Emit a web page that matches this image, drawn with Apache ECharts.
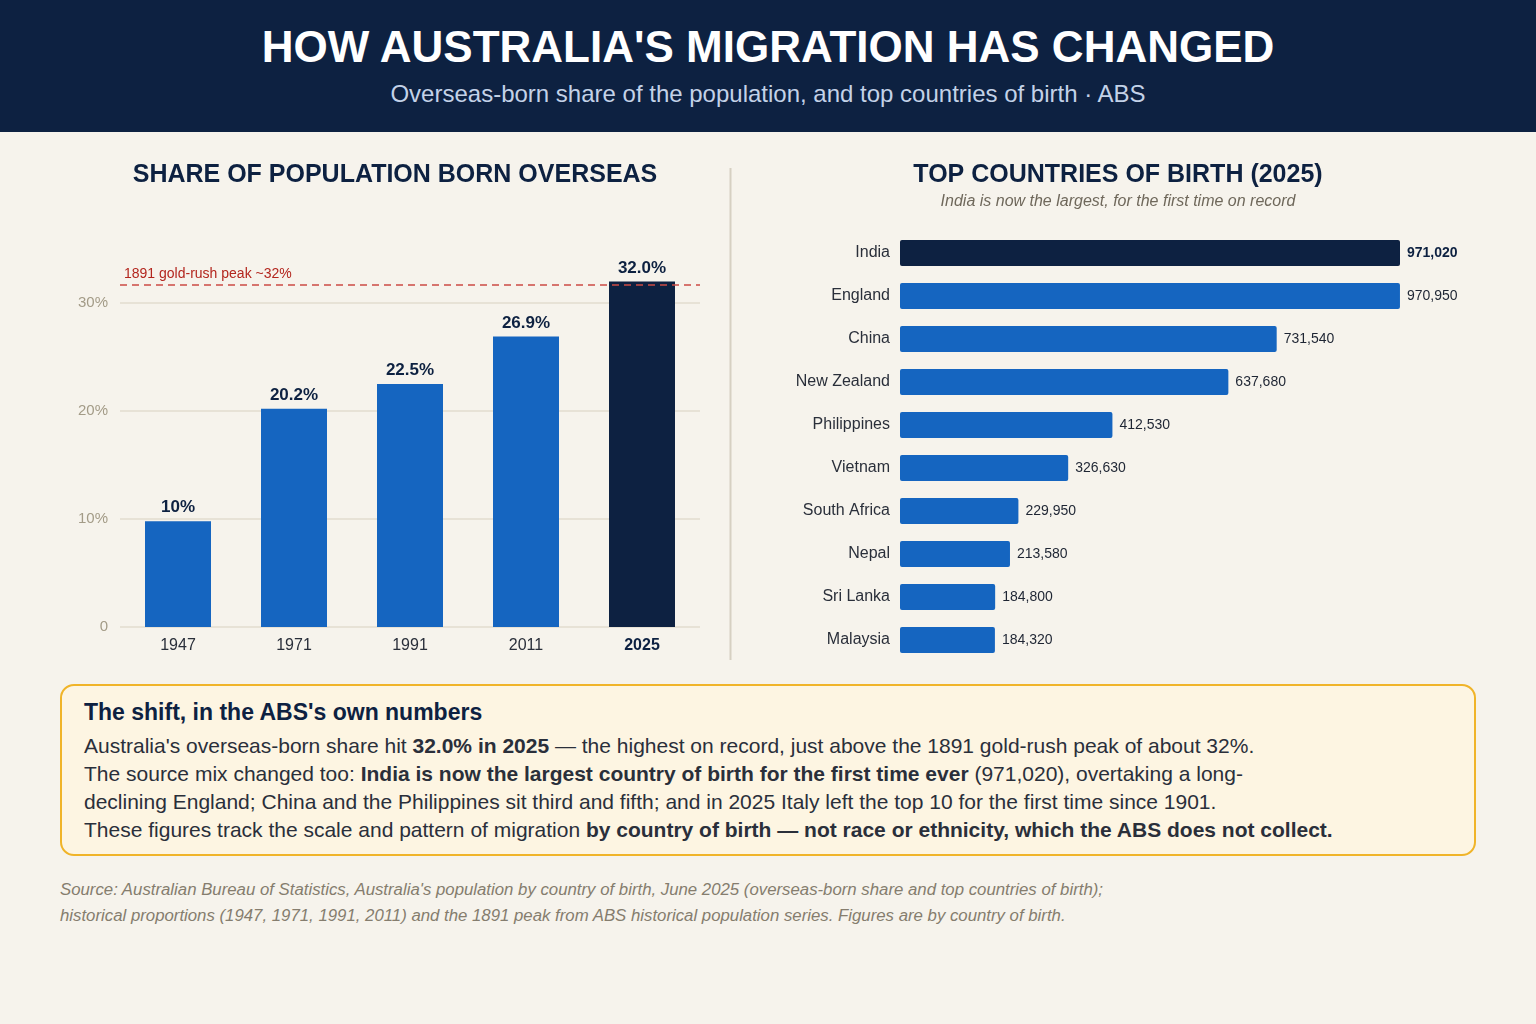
<!DOCTYPE html>
<html>
<head>
<meta charset="utf-8">
<title>How Australia's migration has changed</title>
<script src="https://cdn.jsdelivr.net/npm/echarts@6/dist/echarts.min.js"></script>
<style>
  html, body { margin: 0; padding: 0; }
  body {
    width: 1536px; height: 1024px; position: relative; overflow: hidden;
    background: #f6f3ec;
    font-family: "Liberation Sans", Arial, Helvetica, sans-serif;
  }
  #header {
    position: absolute; left: 0; top: 0; width: 1536px; height: 132px;
    background: #0d2141; text-align: center;
  }
  #header h1 {
    margin: 0; position: absolute; left: 0; right: 0; top: 22px;
    font-size: 44px; line-height: 50px; color: #fff; font-weight: bold;
  }
  #header p {
    margin: 0; position: absolute; left: 0; right: 0; top: 80px;
    font-size: 24px; line-height: 28px; color: #c3d2e8;
  }
  #chart { position: absolute; left: 0; top: 132px; width: 1536px; height: 548px; }
  #note {
    position: absolute; left: 60px; top: 684px; width: 1416px; height: 172px;
    box-sizing: border-box; border: 2px solid #f0b429; border-radius: 14px;
    background: #fdf5e2; padding: 13px 22px 0 22px; color: #2a2f3a;
  }
  #note h3 { margin: 0 0 7px 0; font-size: 23px; line-height: 26px; color: #0d2141; }
  #note p { margin: 0; font-size: 21px; line-height: 28px; }
  #source {
    position: absolute; left: 60px; top: 877px; width: 1440px;
    font-size: 16.8px; line-height: 26px; font-style: italic; color: #857d6e;
  }
</style>
</head>
<body>
<div id="header">
  <h1>HOW AUSTRALIA'S MIGRATION HAS CHANGED</h1>
  <p>Overseas-born share of the population, and top countries of birth · ABS</p>
</div>
<div id="chart"></div>
<div id="note">
  <h3>The shift, in the ABS's own numbers</h3>
  <p>Australia's overseas-born share hit <b>32.0% in 2025</b> — the highest on record, just above the 1891 gold-rush peak of about 32%.<br>
  The source mix changed too: <b>India is now the largest country of birth for the first time ever</b> (971,020), overtaking a long-<br>declining England; China and the Philippines sit third and fifth; and in 2025 Italy left the top 10 for the first time since 1901.<br>
  These figures track the scale and pattern of migration <b>by country of birth — not race or ethnicity, which the ABS does not collect.</b></p>
</div>
<div id="source">
  Source: Australian Bureau of Statistics, Australia's population by country of birth, June 2025 (overseas-born share and top countries of birth);<br>
  historical proportions (1947, 1971, 1991, 2011) and the 1891 peak from ABS historical population series. Figures are by country of birth.
</div>

<script>
// 海外出生人口占比（%）
var years = ['1947', '1971', '1991', '2011', '2025'];
var shareValues = [9.8, 20.2, 22.5, 26.9, 32.0];
var shareLabels = ['10%', '20.2%', '22.5%', '26.9%', '32.0%'];
var peak1891 = 31.7;
var shareTicks = [0, 10, 20, 30];

// 2025 出生国前十
var countries = ['India', 'England', 'China', 'New Zealand', 'Philippines',
                 'Vietnam', 'South Africa', 'Nepal', 'Sri Lanka', 'Malaysia'];
var countryValues = [971020, 970950, 731540, 637680, 412530,
                     326630, 229950, 213580, 184800, 184320];

var NAVY = '#0d2141';
var BLUE = '#1565c0';
var FONT = '"Liberation Sans", Arial, Helvetica, sans-serif';

var dom = document.getElementById('chart');
var myChart = echarts.init(dom);

var shareData = shareValues.map(function (v, i) {
    var last = i === shareValues.length - 1;
    return { value: v, itemStyle: { color: last ? NAVY : BLUE } };
});

var countryData = countryValues.map(function (v, i) {
    return {
        value: v,
        itemStyle: { color: i === 0 ? NAVY : BLUE },
        label: i === 0 ? { fontWeight: 'bold', color: NAVY } : {}
    };
});

var option = {
    textStyle: { fontFamily: FONT },
    animation: false,
    title: [
        {
            text: 'SHARE OF POPULATION BORN OVERSEAS',
            left: 395, top: 31, textAlign: 'center', padding: 0,
            textStyle: { fontSize: 25, fontWeight: 'bold', color: NAVY, fontFamily: FONT }
        },
        {
            text: 'TOP COUNTRIES OF BIRTH (2025)',
            left: 1118, top: 31, textAlign: 'center', padding: 0,
            textStyle: { fontSize: 25, fontWeight: 'bold', color: NAVY, fontFamily: FONT }
        },
        {
            text: 'India is now the largest, for the first time on record',
            left: 1118, top: 62, textAlign: 'center', padding: 0,
            textStyle: { fontSize: 16, fontStyle: 'italic', fontWeight: 'normal', color: '#6f685b', fontFamily: FONT }
        }
    ],
    graphic: [
        {
            type: 'line',
            shape: { x1: 730.5, y1: 36, x2: 730.5, y2: 528 },
            style: { stroke: '#d6d0c2', lineWidth: 2 }
        }
    ],
    grid: [
        { left: 120, right: 836, top: 117, bottom: 53 },
        { left: 900, right: 136, top: 99.5, bottom: 18.5 }
    ],
    xAxis: [
        {
            gridIndex: 0, type: 'category', data: years,
            axisLine: { show: false }, axisTick: { show: false },
            axisLabel: {
                margin: 11, fontSize: 16, color: '#2a2f3a', fontFamily: FONT,
                formatter: function (v, i) {
                    return i === years.length - 1 ? '{b|' + v + '}' : v;
                },
                rich: { b: { fontSize: 16, fontWeight: 'bold', color: NAVY, fontFamily: FONT } }
            }
        },
        {
            gridIndex: 1, type: 'value', min: 0,
            max: function (v) { return v.max; },
            show: false
        }
    ],
    yAxis: [
        {
            gridIndex: 0, type: 'value', min: shareTicks[0], max: 35, interval: 10,
            axisLine: { show: false }, axisTick: { show: false },
            axisLabel: {
                margin: 12, fontSize: 15, color: '#a39b87', fontFamily: FONT,
                showMaxLabel: false,
                formatter: function (v) { return v === 0 ? '0' : v + '%'; }
            },
            splitLine: { showMaxLine: false, lineStyle: { color: '#e7e2d6', width: 2 } }
        },
        {
            gridIndex: 1, type: 'category', data: countries, inverse: true,
            axisLine: { show: false }, axisTick: { show: false },
            axisLabel: { margin: 10, fontSize: 16, color: '#2a2f3a', fontFamily: FONT, padding: [3, 0, 0, 0] }
        }
    ],
    series: [
        {
            type: 'bar', xAxisIndex: 0, yAxisIndex: 0,
            data: shareData, barWidth: 66,
            label: {
                show: true, position: 'top', distance: 5,
                fontSize: 17, fontWeight: 'bold', color: NAVY, fontFamily: FONT,
                formatter: function (p) { return shareLabels[p.dataIndex]; }
            },
            markLine: {
                silent: true, symbol: 'none',
                lineStyle: { type: [7, 5], color: '#cc4b44', width: 1.5 },
                label: {
                    show: true, position: 'insideStartTop', distance: [4, 3],
                    formatter: '1891 gold-rush peak ~32%',
                    fontSize: 14, color: '#b3261e', fontFamily: FONT
                },
                data: [{ yAxis: peak1891 }]
            }
        },
        {
            type: 'bar', xAxisIndex: 1, yAxisIndex: 1,
            data: countryData, barWidth: 26,
            itemStyle: { borderRadius: 2 },
            label: {
                show: true, position: 'right', distance: 7,
                fontSize: 14, color: '#1e2533', fontFamily: FONT,
                formatter: function (p) { return p.value.toLocaleString('en-US'); }
            }
        }
    ]
};

if (option && typeof option === "object") {
    myChart.setOption(option, true);
}
</script>
</body>
</html>
